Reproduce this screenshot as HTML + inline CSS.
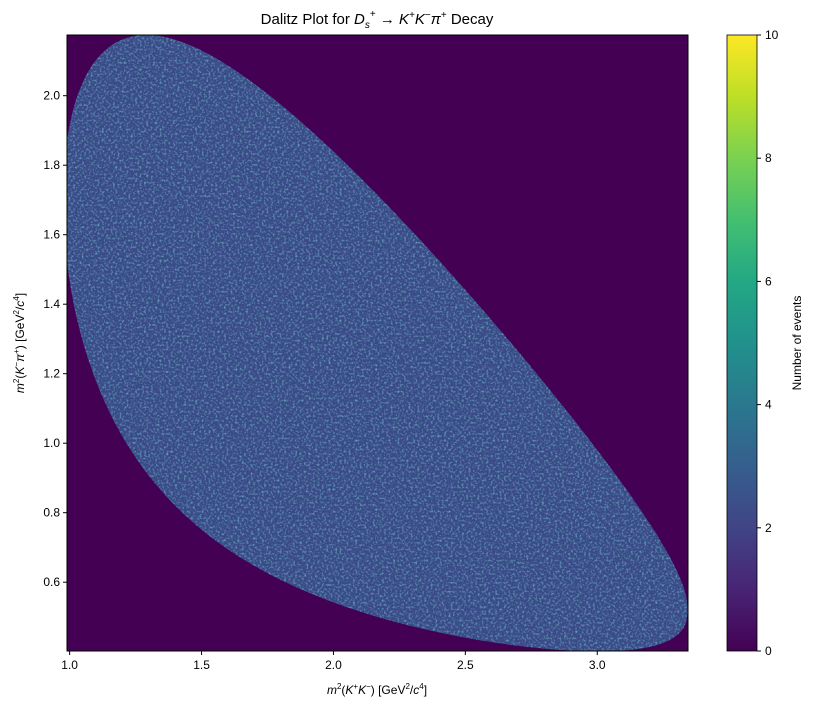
<!DOCTYPE html>
<html><head><meta charset="utf-8"><style>
body{margin:0;background:#fff;}
svg{display:block;font-family:"Liberation Sans","DejaVu Sans",sans-serif;}
</style></head><body>
<svg id="chart" width="813" height="710" viewBox="0 0 813 710">
<defs>
<linearGradient id="cbar" x1="0" y1="1" x2="0" y2="0">
<stop offset="0" stop-color="#440154"/><stop offset="0.1" stop-color="#482475"/><stop offset="0.2" stop-color="#414487"/><stop offset="0.3" stop-color="#355f8d"/><stop offset="0.4" stop-color="#2a788e"/><stop offset="0.5" stop-color="#21918c"/><stop offset="0.6" stop-color="#22a884"/><stop offset="0.7" stop-color="#44bf70"/><stop offset="0.8" stop-color="#7ad151"/><stop offset="0.9" stop-color="#bddf26"/><stop offset="1" stop-color="#fde725"/>
</linearGradient>
<filter id="noise" x="0" y="0" width="100%" height="100%">
<feTurbulence type="fractalNoise" baseFrequency="0.45" numOctaves="2" seed="3"/>
<feColorMatrix type="matrix" values="0 0 0 0 0.16  0 0 0 0 0.50  0 0 0 0 0.55  0 0 0 2.0 -0.95"/>
</filter>
<clipPath id="plotclip"><rect x="67" y="35" width="621" height="616"/></clipPath>
<clipPath id="regionclip"><polygon id="regionclipshape" points=""/></clipPath>
</defs>
<text x="377" y="24" text-anchor="middle" font-size="15">Dalitz Plot for <tspan font-style="italic">D</tspan><tspan font-size="10" dy="4" font-style="italic">s</tspan><tspan font-size="10" dy="-11">+</tspan><tspan dy="7"> → </tspan><tspan font-style="italic">K</tspan><tspan font-size="10" dy="-6">+</tspan><tspan dy="6" font-style="italic">K</tspan><tspan font-size="10" dy="-6">−</tspan><tspan dy="6" font-style="italic">π</tspan><tspan font-size="10" dy="-6">+</tspan><tspan dy="6"> Decay</tspan></text>
<rect x="67" y="35" width="621" height="616" fill="#440154"/>
<g id="heat" clip-path="url(#plotclip)"></g>
<rect x="67" y="35" width="621" height="616" fill="none" stroke="#000" stroke-width="1"/>
<g id="axes"></g>
<text x="377" y="694" text-anchor="middle" font-size="12"><tspan font-style="italic">m</tspan><tspan font-size="8" dy="-5">2</tspan><tspan dy="5">(</tspan><tspan font-style="italic">K</tspan><tspan font-size="8" dy="-5">+</tspan><tspan dy="5" font-style="italic">K</tspan><tspan font-size="8" dy="-5">−</tspan><tspan dy="5">) [GeV</tspan><tspan font-size="8" dy="-5">2</tspan><tspan dy="5">/</tspan><tspan font-style="italic">c</tspan><tspan font-size="8" dy="-5">4</tspan><tspan dy="5">]</tspan></text>
<text transform="translate(24,343) rotate(-90)" text-anchor="middle" font-size="12"><tspan font-style="italic">m</tspan><tspan font-size="8" dy="-5">2</tspan><tspan dy="5">(</tspan><tspan font-style="italic">K</tspan><tspan font-size="8" dy="-5">−</tspan><tspan dy="5" font-style="italic">π</tspan><tspan font-size="8" dy="-5">+</tspan><tspan dy="5">) [GeV</tspan><tspan font-size="8" dy="-5">2</tspan><tspan dy="5">/</tspan><tspan font-style="italic">c</tspan><tspan font-size="8" dy="-5">4</tspan><tspan dy="5">]</tspan></text>
<rect x="727" y="35" width="30" height="616" fill="url(#cbar)" stroke="#000" stroke-width="0.8"/>
<text transform="translate(801,343) rotate(-90)" text-anchor="middle" font-size="12">Number of events</text>
</svg>
<script>
const masses = [1.96835, 0.493677, 0.493677, 0.13957]; // M(Ds), K+, K-, pi+
const xTicks = [1.0, 1.5, 2.0, 2.5, 3.0];
const yTicks = [0.6, 0.8, 1.0, 1.2, 1.4, 1.6, 1.8, 2.0];
const cbTicks = [0, 2, 4, 6, 8, 10];
const xDomain = [0.99, 3.344];
const yDomain = [0.402, 2.1747];
const cbDomain = [0, 10];

const NS = "http://www.w3.org/2000/svg";
const P = {l:67, r:688, t:35, b:651};
const sx = v => P.l + (v - xDomain[0]) / (xDomain[1] - xDomain[0]) * (P.r - P.l);
const sy = v => P.b - (v - yDomain[0]) / (yDomain[1] - yDomain[0]) * (P.b - P.t);
const sc = v => 651 - (v - cbDomain[0]) / (cbDomain[1] - cbDomain[0]) * 616;

function el(tag, attrs, parent){const e=document.createElementNS(NS,tag);for(const k in attrs)e.setAttribute(k,attrs[k]);parent.appendChild(e);return e;}

const [M, m1, m2, m3] = masses;
const lo = (m1+m2)**2, hi = (M-m3)**2;
const upper = [], lower = [];
const N = 300;
for (let i = 0; i <= N; i++) {
  const s12 = lo + (hi - lo) * i / N;
  const m12 = Math.sqrt(s12);
  const E2 = (s12 - m1*m1 + m2*m2) / (2*m12);
  const E3 = (M*M - s12 - m3*m3) / (2*m12);
  const p2 = Math.sqrt(Math.max(0, E2*E2 - m2*m2));
  const p3 = Math.sqrt(Math.max(0, E3*E3 - m3*m3));
  upper.push([s12, (E2+E3)**2 - (p2-p3)**2]);
  lower.push([s12, (E2+E3)**2 - (p2+p3)**2]);
}
const pts = upper.concat(lower.reverse()).map(p => sx(p[0]).toFixed(1)+","+sy(p[1]).toFixed(1)).join(" ");
document.getElementById("regionclipshape").setAttribute("points", pts);
const heat = document.getElementById("heat");
const region = el("polygon", {points: pts, fill: "#3a4a88"}, heat);


const texG = el("g", {"clip-path": "url(#regionclip)"}, heat);


el("rect", {x:67, y:35, width:621, height:616, fill:"#fff", filter:"url(#noise)"}, texG);

const axes = document.getElementById("axes");
xTicks.forEach(v => {
  const x = sx(v);
  const t = el("line", {x1:x, x2:x, y1:P.b, y2:P.b+4, stroke:"#000"}, axes);
  
  
  const l = el("text", {x:x, y:P.b+18, "text-anchor":"middle", "font-size":"12"}, axes);
  
  
  l.textContent = v.toFixed(1);
});
yTicks.forEach(v => {
  const y = sy(v);
  const t = el("line", {x1:P.l-4, x2:P.l, y1:y, y2:y, stroke:"#000"}, axes);
  
  
  const l = el("text", {x:P.l-7, y:y+4, "text-anchor":"end", "font-size":"12"}, axes);
  
  
  l.textContent = v.toFixed(1);
});
cbTicks.forEach(v => {
  const y = sc(v);
  const t = el("line", {x1:757, x2:761, y1:y, y2:y, stroke:"#000"}, axes);
  
  
  const l = el("text", {x:765, y:y+4, "font-size":"12"}, axes);
  
  
  l.textContent = String(v);
});
</script>
</body></html>
